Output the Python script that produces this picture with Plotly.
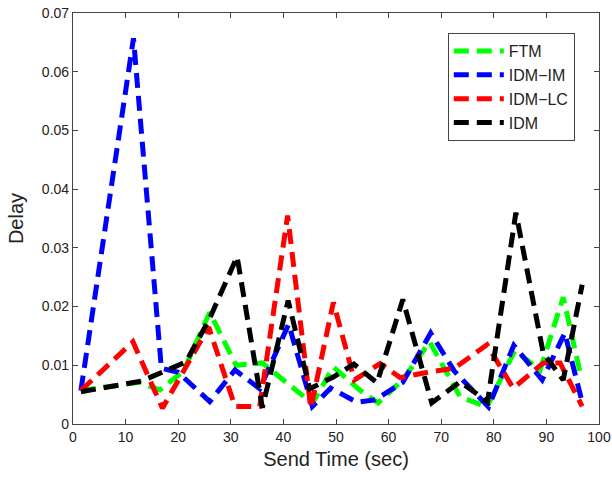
import plotly.graph_objects as go

ftm_t = [1.5, 12.5, 16.5, 21, 26, 31, 36, 41, 45.5, 49.5, 54.5, 58, 62.7, 67.8, 73.6, 78.7, 84, 88.8, 93.2, 96.6]
ftm_v = [0.0057, 0.0071, 0.0058, 0.0090, 0.0190, 0.0100, 0.0104, 0.0068, 0.0035, 0.0097, 0.0058, 0.0036, 0.0075, 0.0140, 0.0046, 0.0029, 0.0125, 0.0092, 0.0216, 0.0080]

im_t = [1.5, 11.5, 16.8, 20, 26, 30.8, 35.5, 41, 45.5, 49, 54, 57.4, 62.7, 68, 72.5, 79, 83.8, 89.2, 93.5, 96.8]
im_v = [0.0057, 0.0657, 0.0095, 0.0088, 0.0038, 0.0092, 0.0060, 0.0170, 0.0030, 0.0061, 0.0037, 0.0041, 0.0071, 0.0155, 0.0090, 0.0029, 0.0134, 0.0075, 0.0155, 0.0037]

lc_t = [1.5, 11.4, 17, 21, 25.8, 30.8, 35.5, 40.8, 45.2, 49.5, 53.5, 58.4, 62.2, 67.9, 72.5, 78.7, 83.7, 89.4, 92.6, 96.8]
lc_v = [0.0057, 0.0140, 0.0027, 0.0088, 0.0165, 0.0030, 0.0030, 0.0355, 0.0027, 0.0207, 0.0075, 0.0103, 0.0079, 0.0089, 0.0095, 0.0135, 0.0061, 0.0104, 0.0104, 0.0030]

idm_t = [1.5, 13, 18, 21.5, 26, 31.2, 36, 40.9, 45, 49.5, 53.4, 57.8, 62.7, 68.2, 73.6, 78.8, 84.2, 89.4, 93.2, 96.8]
idm_v = [0.0055, 0.0073, 0.0092, 0.0106, 0.0180, 0.0285, 0.0028, 0.0210, 0.0060, 0.0080, 0.0102, 0.0070, 0.0212, 0.0036, 0.0072, 0.0038, 0.0360, 0.0121, 0.0075, 0.0237]

y_tickvals = [0, 0.01, 0.02, 0.03, 0.04, 0.05, 0.06, 0.07]
y_ticktext = ["0", "0.01", "0.02", "0.03", "0.04", "0.05", "0.06", "0.07"]

names = ["FTM", "IDM\u2212IM", "IDM\u2212LC", "IDM"]
colors = ["#00ff00", "#0000ff", "#ff0000", "#000000"]
series = [(ftm_t, ftm_v), (im_t, im_v), (lc_t, lc_v), (idm_t, idm_v)]

fig = go.Figure()
for (t, v), n, c in zip(series, names, colors):
    fig.add_trace(go.Scatter(x=t, y=v, mode="lines", name=n,
                             line=dict(color=c, width=5, dash="15px,8px")))

font_family = "Liberation Sans, Arial, sans-serif"
axis_common = dict(showline=True, linecolor="#444", linewidth=1.2, mirror="ticks",
                   ticks="inside", ticklen=5, tickcolor="#444", showgrid=False,
                   zeroline=False, automargin=False,
                   tickfont=dict(size=14, color="#222", family=font_family))
fig.update_xaxes(range=[0, 100], dtick=10,
                 title=dict(text="Send Time (sec)", font=dict(size=20, color="#222", family=font_family), standoff=8),
                 **axis_common)
fig.update_yaxes(range=[0, 0.07], tickmode="array", tickvals=y_tickvals, ticktext=y_ticktext,
                 title=dict(text="Delay", font=dict(size=20, color="#222", family=font_family), standoff=12),
                 **axis_common)

fig.update_layout(
    width=612, height=477,
    margin=dict(l=73, r=13, t=13, b=53),
    paper_bgcolor="white", plot_bgcolor="white",
    legend=dict(x=0.954, y=0.951, xanchor="right", yanchor="top",
                bordercolor="#444", borderwidth=1, bgcolor="white",
                font=dict(size=16, color="#222", family=font_family),
                tracegroupgap=0, itemwidth=50),
    showlegend=True,
)
fig.write_html("out.html")
